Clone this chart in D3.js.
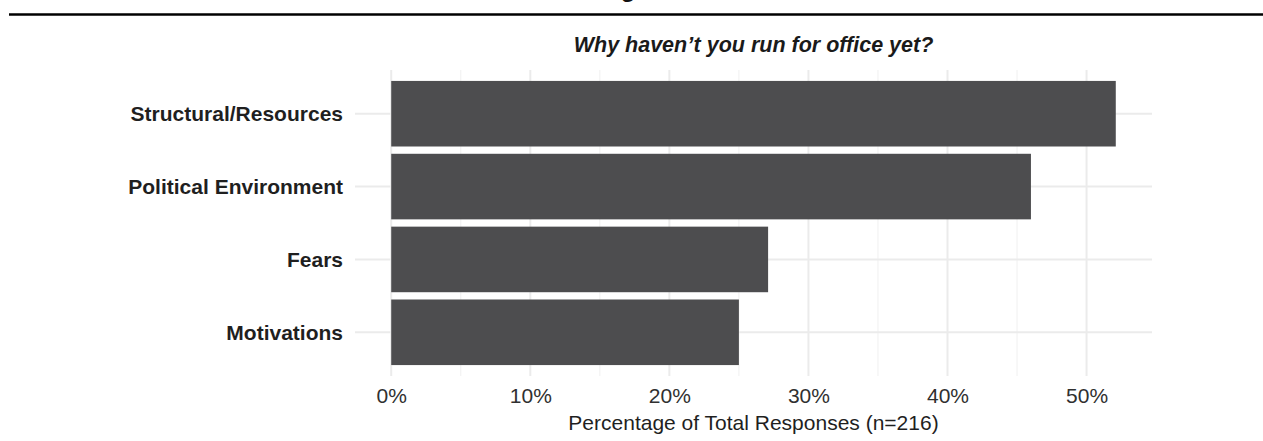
<!DOCTYPE html>
<html>
<head>
<meta charset="utf-8">
<script src="https://cdn.jsdelivr.net/npm/d3@7"></script>
<style>
  body { margin: 0; background: #fff; }
  svg { display: block; font-family: "Liberation Sans", Arial, sans-serif; }
</style>
</head>
<body>
<div id="chart"></div>
<script>
// data
const categories = ["Structural/Resources", "Political Environment", "Fears", "Motivations"];
const percents = [52.1, 46.0, 27.1, 25.0];
const xTicks = [0, 10, 20, 30, 40, 50];
const xMinor = [5, 15, 25, 35, 45];

const width = 1263,
  height = 441;
const panel = { left: 355, right: 1152, top: 70, bottom: 376 };

const svg = d3
  .select("#chart")
  .append("svg")
  .attr("width", width)
  .attr("height", height);

// cut-off heading above the rule
svg.append("text")
  .attr("x", 628)
  .attr("y", -3)
  .attr("text-anchor", "middle")
  .style("font-weight", "bold")
  .style("font-size", "24px")
  .attr("fill", "#111")
  .text("g");

svg.append("line")
  .attr("x1", 9).attr("x2", width)
  .attr("y1", 14.5).attr("y2", 14.5)
  .attr("stroke", "#000")
  .attr("stroke-width", 2.5);

// scales (ggplot-like 5% expansion on x, 0.6 band expansion on y)
const xMax = d3.max(percents);
const pad = xMax * 0.05;
const x = d3.scaleLinear().domain([-pad, xMax + pad]).range([panel.left, panel.right]);

const step = (panel.bottom - panel.top) / (categories.length - 1 + 1.2);
const y = d3.scalePoint()
  .domain(categories)
  .range([panel.top + 0.6 * step, panel.bottom - 0.6 * step]);

const g = svg.append("g");

// Grid
g.selectAll(".minor")
  .data(xMinor)
  .join("line")
  .attr("x1", (d) => x(d)).attr("x2", (d) => x(d))
  .attr("y1", panel.top).attr("y2", panel.bottom)
  .attr("stroke", "#f0f0f0")
  .attr("stroke-width", 1);

g.selectAll(".major")
  .data(xTicks)
  .join("line")
  .attr("x1", (d) => x(d)).attr("x2", (d) => x(d))
  .attr("y1", panel.top).attr("y2", panel.bottom)
  .attr("stroke", "#ebebeb")
  .attr("stroke-width", 2);

g.selectAll(".hgrid")
  .data(categories)
  .join("line")
  .attr("x1", panel.left).attr("x2", panel.right)
  .attr("y1", (d) => y(d)).attr("y2", (d) => y(d))
  .attr("stroke", "#ebebeb")
  .attr("stroke-width", 2);

// Bars
const barH = step * 0.9;
g.selectAll(".bar")
  .data(categories)
  .join("rect")
  .attr("x", x(0))
  .attr("y", (d) => y(d) - barH / 2)
  .attr("width", (d, i) => x(percents[i]) - x(0))
  .attr("height", barH)
  .attr("fill", "#4d4d4f");

// Axes
const xAxis = d3.axisBottom(x)
  .tickValues(xTicks)
  .tickFormat((d) => d + "%")
  .tickSize(0)
  .tickPadding(0);

svg.append("g")
  .attr("transform", `translate(0,${panel.bottom})`)
  .call(xAxis)
  .call((a) => a.select(".domain").remove())
  .call((a) => a.selectAll("text")
    .attr("dy", "0")
    .attr("y", 27)
    .attr("fill", "#303030")
    .style("font-size", "21px"));

const yAxis = d3.axisLeft(y).tickSize(0).tickPadding(12);
svg.append("g")
  .attr("transform", `translate(${panel.left},0)`)
  .call(yAxis)
  .call((a) => a.select(".domain").remove())
  .call((a) => a.selectAll("text")
    .attr("fill", "#1f1f1f")
    .style("font-weight", "bold")
    .style("font-size", "21px"));

// Titles
svg.append("text")
  .attr("x", (panel.left + panel.right) / 2)
  .attr("y", 52)
  .attr("text-anchor", "middle")
  .style("font-weight", "bold")
  .style("font-style", "italic")
  .style("font-size", "21.5px")
  .attr("fill", "#1a1a1a")
  .text("Why haven\u2019t you run for office yet?");

svg.append("text")
  .attr("x", (panel.left + panel.right) / 2)
  .attr("y", 430)
  .attr("text-anchor", "middle")
  .style("font-size", "21px")
  .attr("fill", "#1f1f1f")
  .text("Percentage of Total Responses (n=216)");
</script>
</body>
</html>
